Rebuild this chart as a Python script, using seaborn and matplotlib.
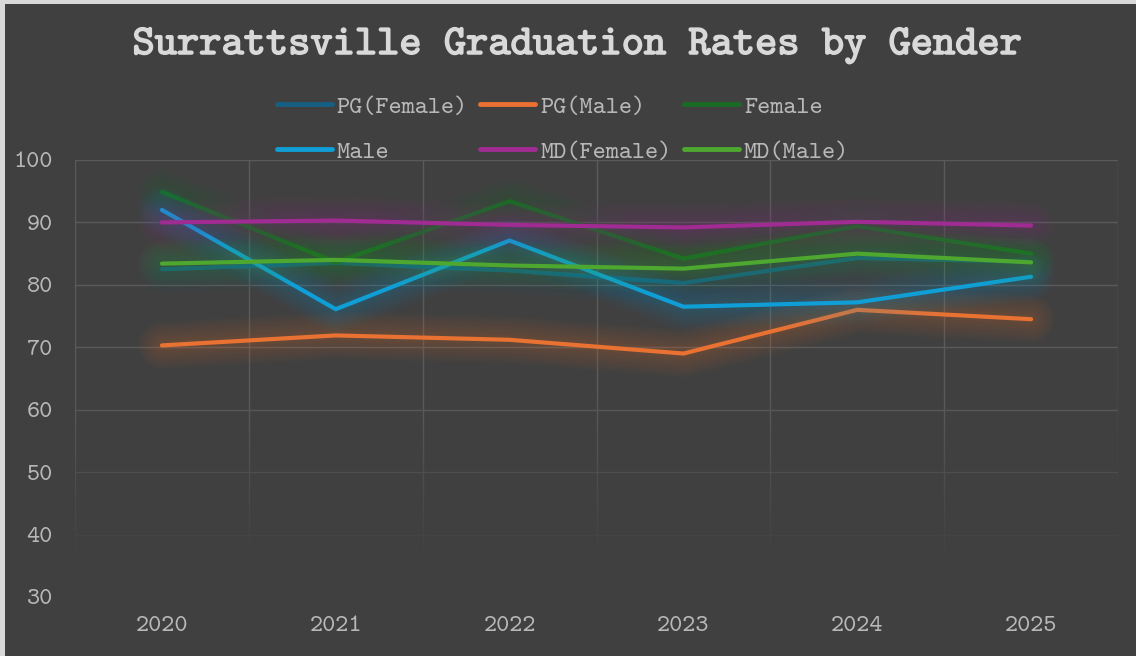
import numpy as np
import pandas as pd
import seaborn as sns
import matplotlib
matplotlib.use("Agg")
import matplotlib.pyplot as plt
import matplotlib.patheffects as pe
from matplotlib.patches import Rectangle
from matplotlib.lines import Line2D

# ---- data ----
years = [2020, 2021, 2022, 2023, 2024, 2025]
pg_female = [82.5, 83.5, 82.3, 80.3, 84.3, 83.7]
pg_male = [70.3, 71.9, 71.2, 69.0, 76.0, 74.5]
female = [94.9, 83.6, 93.4, 84.2, 89.4, 85.0]
male = [92.0, 76.1, 87.1, 76.5, 77.2, 81.3]
md_female = [90.0, 90.3, 89.6, 89.2, 90.1, 89.5]
md_male = [83.4, 84.0, 83.1, 82.6, 85.0, 83.6]
series_names = ["PG(Female)", "PG(Male)", "Female", "Male", "MD(Female)", "MD(Male)"]
series_values = [pg_female, pg_male, female, male, md_female, md_male]
colors = ["#156082", "#E97132", "#196B24", "#0F9ED5", "#A02B93", "#4EA72E"]
y_ticks = [30, 40, 50, 60, 70, 80, 90, 100]
title = "Surrattsville Graduation Rates by Gender"

rows = []
for name, vals in zip(series_names, series_values):
    for yr, v in zip(years, vals):
        rows.append({"Year": yr, "Rate": v, "Series": name})
df = pd.DataFrame(rows)

BG = "#404040"
GRID = "#5a5a5a"
TXT = "#b8b8b8"

sns.set_theme(style="dark")
plt.rcParams["font.family"] = ["cmtt10", "Liberation Mono", "DejaVu Sans"]

fig = plt.figure(figsize=(11.36, 6.56), dpi=100)
fig.patch.set_facecolor(BG)
# light strips at left / top edge
fig.patches.append(Rectangle((0, 0), 5 / 1136, 1, transform=fig.transFigure,
                             facecolor="#d9d9d9", edgecolor="none", zorder=-1))
fig.patches.append(Rectangle((0, 1 - 4 / 656), 1, 4 / 656, transform=fig.transFigure,
                             facecolor="#d9d9d9", edgecolor="none", zorder=-1))

ax = fig.add_axes([75 / 1136, 1 - 597 / 656, (1118 - 75) / 1136, (597 - 160) / 656])
ax.set_facecolor(BG)

sns.lineplot(data=df, x="Year", y="Rate", hue="Series", hue_order=series_names,
             palette=colors, linewidth=3, errorbar=None, legend=False, ax=ax,
             solid_capstyle="round")

glow_widths = [34, 30, 26, 22, 18, 14, 10, 7]
for ln, c in zip(ax.get_lines(), colors):
    ln.set_zorder(3)
    effects = [pe.Stroke(linewidth=w, foreground=c, alpha=0.03) for w in glow_widths]
    ln.set_path_effects(effects + [pe.Normal()])

ax.set_xlim(2019.5, 2025.5)
ax.set_ylim(30, 100)
ax.set_xticks(years)
ax.set_xticklabels([str(y) for y in years])
ax.set_xticks([y - 0.5 for y in years] + [years[-1] + 0.5], minor=True)
ax.set_yticks(y_ticks)
ax.set_yticklabels([str(t) for t in y_ticks])
ax.grid(False)
ax.grid(True, which="minor", axis="x", color=GRID, linewidth=1.0)
ax.grid(True, which="major", axis="y", color=GRID, linewidth=1.0)
ax.set_axisbelow(True)
for s in ax.spines.values():
    s.set_visible(False)
ax.tick_params(axis="both", which="both", length=0)
ax.tick_params(axis="x", which="major", pad=14, labelsize=18, labelcolor=TXT)
ax.tick_params(axis="y", which="major", pad=16, labelsize=18, labelcolor=TXT)
ax.set_xlabel("")
ax.set_ylabel("")

# fade of grid toward the bottom of the plot area
rgb = matplotlib.colors.to_rgb(BG)
grad = np.zeros((400, 4, 4))
grad[..., 0], grad[..., 1], grad[..., 2] = rgb
yy = np.linspace(30, 62, 400)
grad[:, :, 3] = np.clip((62 - yy) / 26.0, 0, 1)[:, None]
ax.imshow(grad, extent=[2019.4, 2025.6, 29.5, 62], origin="lower", aspect="auto",
          zorder=1.5, interpolation="nearest")
ax.set_xlim(2019.5, 2025.5)
ax.set_ylim(30, 100)

# legend (row-wise order in 3 columns)
order = [0, 3, 1, 4, 2, 5]
handles = [Line2D([0], [0], color=colors[i], linewidth=3.5, solid_capstyle="round") for i in order]
labels = [series_names[i] for i in order]
leg = fig.legend(handles, labels, ncol=3, loc="center",
                 bbox_to_anchor=(563 / 1136, 1 - 129.5 / 656), frameon=False,
                 prop={"family": ["cmtt10", "DejaVu Sans"], "size": 18},
                 handlelength=2.2, handletextpad=0.2,
                 columnspacing=0.5, labelspacing=0.85)
for t in leg.get_texts():
    t.set_color(TXT)

fig.text(577 / 1136, 1 - 46 / 656, title, ha="center", va="center",
         fontsize=30.5, color="#d9d9d9",
         path_effects=[pe.Stroke(linewidth=1.1, foreground="#d9d9d9"), pe.Normal()])

fig.savefig("out.png", dpi=100, facecolor=fig.get_facecolor())
